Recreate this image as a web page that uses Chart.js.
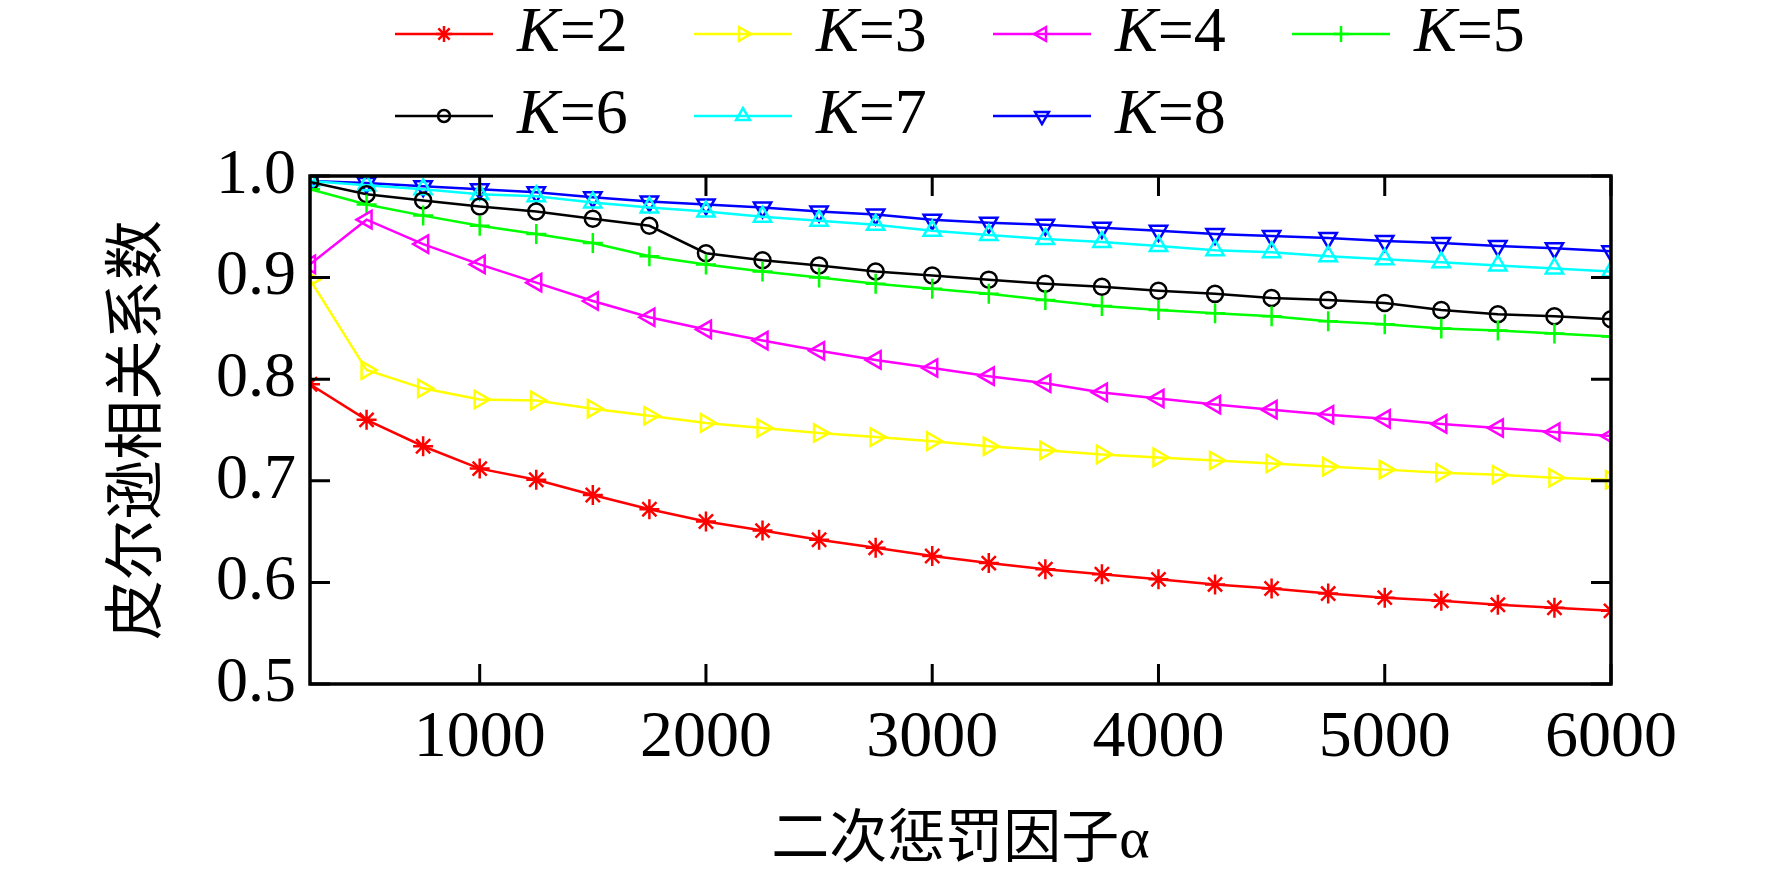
<!DOCTYPE html>
<html>
<head>
<meta charset="utf-8">
<script src="https://cdn.jsdelivr.net/npm/chart.js@4.4.1/dist/chart.umd.min.js"></script>
<style>
  html, body { margin: 0; padding: 0; background: #fff; }
  #wrap { width: 1772px; height: 873px; }
</style>
</head>
<body>
<div id="wrap"><canvas id="chart" width="1772" height="873"></canvas></div>
<script>
// 横轴：二次惩罚因子
const alphaValues = [250, 500, 750, 1000, 1250, 1500, 1750, 2000, 2250, 2500, 2750, 3000,
                     3250, 3500, 3750, 4000, 4250, 4500, 4750, 5000, 5250, 5500, 5750, 6000];
const xTicks = [1000, 2000, 3000, 4000, 5000, 6000];
const yTicks = [0.5, 0.6, 0.7, 0.8, 0.9, 1.0];

// 皮尔逊相关系数，每个 K 一条曲线
const k2 = [0.795, 0.760, 0.734, 0.712, 0.701, 0.686, 0.672, 0.660, 0.651, 0.642, 0.634, 0.626,
            0.619, 0.613, 0.608, 0.603, 0.598, 0.594, 0.589, 0.585, 0.582, 0.578, 0.575, 0.572];
const k3 = [0.898, 0.809, 0.791, 0.780, 0.779, 0.771, 0.764, 0.757, 0.752, 0.747, 0.743, 0.739,
            0.734, 0.730, 0.726, 0.723, 0.720, 0.717, 0.714, 0.711, 0.708, 0.706, 0.703, 0.701];
const k4 = [0.913, 0.957, 0.933, 0.913, 0.895, 0.877, 0.861, 0.849, 0.838, 0.828, 0.819, 0.811,
            0.803, 0.796, 0.787, 0.781, 0.775, 0.770, 0.765, 0.761, 0.756, 0.752, 0.748, 0.744];
const k5 = [0.987, 0.972, 0.961, 0.951, 0.943, 0.934, 0.921, 0.913, 0.906, 0.900, 0.894, 0.889,
            0.884, 0.878, 0.872, 0.868, 0.865, 0.862, 0.857, 0.854, 0.850, 0.848, 0.845, 0.842];
const k6 = [0.994, 0.982, 0.976, 0.970, 0.965, 0.958, 0.951, 0.924, 0.917, 0.912, 0.906, 0.902,
            0.898, 0.894, 0.891, 0.887, 0.884, 0.880, 0.878, 0.875, 0.868, 0.864, 0.862, 0.859];
const k7 = [0.995, 0.991, 0.987, 0.982, 0.980, 0.974, 0.969, 0.965, 0.960, 0.956, 0.952, 0.946,
            0.942, 0.938, 0.935, 0.931, 0.927, 0.925, 0.921, 0.918, 0.915, 0.912, 0.909, 0.906];
const k8 = [0.995, 0.993, 0.990, 0.987, 0.984, 0.979, 0.975, 0.972, 0.969, 0.965, 0.962, 0.957,
            0.954, 0.952, 0.949, 0.946, 0.943, 0.941, 0.939, 0.936, 0.934, 0.931, 0.929, 0.926];

const kValues = [2, 3, 4, 5, 6, 7, 8];
const seriesValues = [k2, k3, k4, k5, k6, k7, k8];
const seriesColors = ['#ff0000', '#ffff00', '#ff00ff', '#00ff00', '#000000', '#00ffff', '#0000ff'];
const seriesMarkers = ['star', 'triangle', 'triangle', 'cross', 'circle', 'triangle', 'triangle'];
const markerRotation = [0, 90, -90, 0, 0, 0, 180];

const serifFont = '"Liberation Serif", "Times New Roman", "Noto Sans CJK SC", serif';
const tickLen = 20;

// 图例位置（两行四列）
const legendX = [395, 694, 993, 1292];
const legendY = [34, 116];
const legendLine = 98;

const datasets = kValues.map((k, i) => ({
    label: `K=${k}`,
    data: alphaValues.map((a, j) => ({ x: a, y: seriesValues[i][j] })),
    borderColor: seriesColors[i],
    backgroundColor: seriesColors[i],
    borderWidth: 2.5,
    pointStyle: seriesMarkers[i],
    pointRotation: markerRotation[i],
    pointRadius: seriesMarkers[i] === 'circle' ? 8 : 10,
    pointBorderWidth: 2.5,
    pointBorderColor: seriesColors[i],
    pointBackgroundColor: 'rgba(255,255,255,0)',
    tension: 0,
    clip: 0
}));

// 四周边框和朝内的刻度线
const frameTicks = {
    id: 'frameTicks',
    afterDatasetsDraw(chart) {
        const { ctx, chartArea: a, scales: { x, y } } = chart;
        ctx.save();
        ctx.strokeStyle = '#000';
        ctx.lineWidth = 3;
        ctx.beginPath();
        xTicks.forEach(v => {
            const px = x.getPixelForValue(v);
            ctx.moveTo(px, a.bottom); ctx.lineTo(px, a.bottom - tickLen);
            ctx.moveTo(px, a.top); ctx.lineTo(px, a.top + tickLen);
        });
        yTicks.forEach(v => {
            const py = y.getPixelForValue(v);
            ctx.moveTo(a.left, py); ctx.lineTo(a.left + tickLen, py);
            ctx.moveTo(a.right, py); ctx.lineTo(a.right - tickLen, py);
        });
        ctx.stroke();
        ctx.lineWidth = 3.5;
        ctx.strokeRect(a.left, a.top, a.right - a.left, a.bottom - a.top);
        ctx.restore();
    }
};

// 图例：K 用斜体
const kLegend = {
    id: 'kLegend',
    afterDraw(chart) {
        const ctx = chart.ctx;
        ctx.save();
        chart.data.datasets.forEach((ds, i) => {
            const x0 = legendX[i % 4];
            const y0 = legendY[Math.floor(i / 4)];
            ctx.strokeStyle = ds.borderColor;
            ctx.lineWidth = ds.borderWidth;
            ctx.beginPath();
            ctx.moveTo(x0, y0);
            ctx.lineTo(x0 + legendLine, y0);
            ctx.stroke();
            ctx.fillStyle = 'rgba(255,255,255,0)';
            ctx.lineWidth = ds.pointBorderWidth;
            Chart.helpers.drawPoint(ctx, {
                pointStyle: ds.pointStyle,
                rotation: ds.pointRotation,
                radius: ds.pointRadius - 2,
                borderWidth: ds.pointBorderWidth
            }, x0 + legendLine / 2, y0);

            const tx = x0 + 122;
            ctx.fillStyle = '#000';
            ctx.textBaseline = 'middle';
            ctx.textAlign = 'left';
            ctx.font = `italic 64px ${serifFont}`;
            ctx.fillText('K', tx, y0);
            const w = ctx.measureText('K').width;
            ctx.font = `64px ${serifFont}`;
            ctx.fillText('=' + kValues[i], tx + w, y0);
        });
        ctx.restore();
    }
};

const ctx = document.getElementById('chart').getContext('2d');
const chart = new Chart(ctx, {
    type: 'line',
    data: { datasets: datasets },
    plugins: [frameTicks, kLegend],
    options: {
        responsive: false,
        animation: false,
        devicePixelRatio: 1,
        layout: { padding: { top: 176, right: 161, left: 0, bottom: 0 } },
        plugins: {
            legend: { display: false },
            tooltip: { enabled: false }
        },
        scales: {
            x: {
                type: 'linear',
                min: 250,
                max: 6000,
                afterBuildTicks: scale => { scale.ticks = xTicks.map(v => ({ value: v })); },
                afterFit: scale => { scale.height = 189; },
                grid: { display: false, drawTicks: false },
                border: { display: false },
                ticks: {
                    color: '#000',
                    padding: 22,
                    maxRotation: 0,
                    autoSkip: false,
                    font: { family: serifFont, size: 66, lineHeight: 1 },
                    callback: v => String(v)
                },
                title: {
                    display: true,
                    text: '二次惩罚因子α',
                    color: '#000',
                    font: { family: serifFont, size: 58, lineHeight: 1 },
                    padding: { top: 0, bottom: 2 }
                }
            },
            y: {
                min: 0.5,
                max: 1.0,
                afterBuildTicks: scale => { scale.ticks = yTicks.map(v => ({ value: v })); },
                afterFit: scale => { scale.width = 310; },
                grid: { display: false, drawTicks: false },
                border: { display: false },
                ticks: {
                    color: '#000',
                    padding: 14,
                    autoSkip: false,
                    font: { family: serifFont, size: 64, lineHeight: 1 },
                    callback: v => v.toFixed(1)
                },
                title: {
                    display: true,
                    text: '皮尔逊相关系数',
                    color: '#000',
                    font: { family: serifFont, size: 60, lineHeight: 1 },
                    padding: { top: 110, bottom: 0 }
                }
            }
        }
    }
});
</script>
</body>
</html>
